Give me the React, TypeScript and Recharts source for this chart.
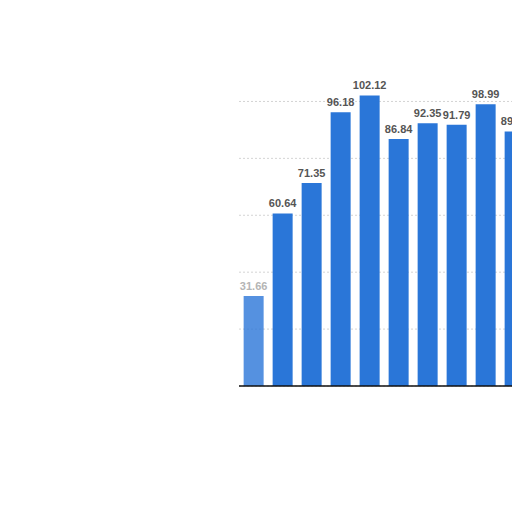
import { BarChart, Bar, XAxis, YAxis, CartesianGrid, LabelList, Cell, ReferenceLine } from 'recharts'

// x labels are not visible in the picture, so the categories are just positions
const categories = ['1', '2', '3', '4', '5', '6', '7', '8', '9', '10']
const values = [31.66, 60.64, 71.35, 96.18, 102.12, 86.84, 92.35, 91.79, 98.99, 89.47]
const yTicks = [0, 20, 40, 60, 80, 100]
const Y_MAX = 110

const data = categories.map((name, i) => ({ name, value: values[i] }))

const BAR_COLOR = '#2a76d8'

function renderLabel(props: any) {
  const { x, y, width, value, index } = props
  return (
    <text
      x={x + width / 2}
      y={y - 6}
      textAnchor="middle"
      fontSize={11}
      fontWeight="bold"
      fontFamily="Liberation Sans, Arial, sans-serif"
      fill={index === 0 ? '#b5b5b5' : '#555'}
    >
      {value.toFixed(2)}
    </text>
  )
}

// only the tick values get a grid line, not the top of the plot
function gridRows({ offset }: any) {
  return yTicks.map((t) => offset.top + offset.height * (1 - t / Y_MAX))
}

export default function App() {
  return (
    <div style={{ position: 'fixed', left: 0, top: 0, width: 512, height: 512, overflow: 'hidden', background: '#fff' }}>
      <BarChart
        width={540}
        height={512}
        data={data}
        margin={{ top: 73, right: 11, bottom: 125, left: 239 }}
        barCategoryGap="16%"
      >
        <CartesianGrid
          vertical={false}
          stroke="#d4d4d4"
          strokeDasharray="2 2"
          horizontalCoordinatesGenerator={gridRows}
        />
        <XAxis dataKey="name" height={1} tick={false} tickLine={false} axisLine={false} />
        <YAxis hide domain={[0, Y_MAX]} ticks={yTicks} />
        <Bar dataKey="value" fill={BAR_COLOR} isAnimationActive={false}>
          {data.map((d, i) => (
            <Cell key={d.name} fill={BAR_COLOR} fillOpacity={i === 0 ? 0.8 : 1} />
          ))}
          <LabelList dataKey="value" content={renderLabel} />
        </Bar>
        <ReferenceLine y={0} stroke="#111" strokeWidth={1.5} />
      </BarChart>
    </div>
  )
}
